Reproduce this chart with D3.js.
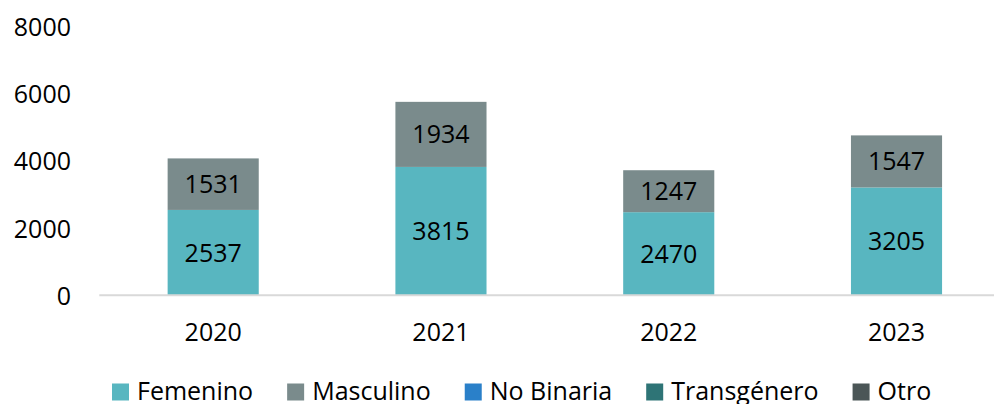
<!DOCTYPE html>
<html>
<head>
<meta charset="utf-8">
<script src="https://cdn.jsdelivr.net/npm/d3@7"></script>
<style>
  html, body { margin: 0; padding: 0; background: #fff; }
  svg { display: block; font-family: "Open Sans", sans-serif; }
</style>
</head>
<body>
<div class="chart"></div>
<script>
// data
const years = ["2020", "2021", "2022", "2023"];
const femenino = [2537, 3815, 2470, 3205];
const masculino = [1531, 1934, 1247, 1547];
const noBinaria = [0, 0, 0, 0];
const transgenero = [0, 0, 0, 0];
const otro = [0, 0, 0, 0];
const seriesNames = ["Femenino", "Masculino", "No Binaria", "Transgénero", "Otro"];
const yTicks = [0, 2000, 4000, 6000, 8000];

const colors = ["#58b6c0", "#7a8b8c", "#2a80c9", "#2e7476", "#4b5657"];

// setup chart
const width = 995;
const height = 404;
const fontSize = 25;

const svg = d3
   .select(".chart")
   .append("svg")
   .attr("width", width)
   .attr("height", height);

const rows = years.map((y, i) => ({
   year: y,
   "Femenino": femenino[i],
   "Masculino": masculino[i],
   "No Binaria": noBinaria[i],
   "Transgénero": transgenero[i],
   "Otro": otro[i]
}));

const stacked = d3.stack().keys(seriesNames)(rows);

const xScale = d3
   .scaleBand()
   .domain(years)
   .range([99.3, 1010.4])
   .paddingInner(0.6)
   .paddingOuter(0.3);

const yScale = d3.scaleLinear().domain([0, 8000]).range([295.3, 26.1]);

// y-axis labels (no line)
const yAxis = d3
   .axisLeft(yScale)
   .tickValues(yTicks)
   .tickFormat(d3.format("d"))
   .tickSize(0)
   .tickPadding(0);
svg
   .append("g")
   .attr("transform", "translate(71, 0)")
   .call(yAxis)
   .call((g) => g.select(".domain").remove())
   .call((g) =>
      g
         .selectAll("text")
         .attr("font-family", "Open Sans")
         .attr("font-size", fontSize)
         .attr("fill", "#000")
         .attr("dy", "0.36em")
   );

// bars
const layers = svg
   .selectAll("g.layer")
   .data(stacked)
   .enter()
   .append("g")
   .attr("class", "layer")
   .attr("fill", (d, i) => colors[i]);

layers
   .selectAll("rect")
   .data((d) => d.filter((s) => s[1] - s[0] > 0))
   .enter()
   .append("rect")
   .attr("x", (d) => xScale(d.data.year))
   .attr("width", xScale.bandwidth())
   .attr("y", (d) => yScale(d[1]))
   .attr("height", (d) => yScale(d[0]) - yScale(d[1]));

// value labels
layers
   .selectAll("text")
   .data((d) => d.filter((s) => s[1] - s[0] > 0))
   .enter()
   .append("text")
   .attr("x", (d) => xScale(d.data.year) + xScale.bandwidth() / 2)
   .attr("y", (d) => (yScale(d[0]) + yScale(d[1])) / 2)
   .attr("dy", "0.36em")
   .attr("text-anchor", "middle")
   .attr("font-size", fontSize)
   .attr("fill", "#000")
   .text((d) => d[1] - d[0]);

// x-axis
const xAxis = d3.axisBottom(xScale).tickSize(0).tickPadding(0);
svg
   .append("g")
   .attr("transform", `translate(0, ${yScale(0)})`)
   .call(xAxis)
   .call((g) => g.select(".domain").remove())
   .call((g) =>
      g
         .selectAll("text")
         .attr("font-family", "Open Sans")
         .attr("font-size", fontSize)
         .attr("fill", "#000")
         .attr("y", 37)
         .attr("dy", "0.36em")
   );

svg
   .append("line")
   .attr("x1", 99.3)
   .attr("x2", 994)
   .attr("y1", yScale(0))
   .attr("y2", yScale(0))
   .attr("stroke", "#d9d9d9")
   .attr("stroke-width", 2);

// legend
const legend = svg.append("g").attr("transform", "translate(112, 391)");
let lx = 0;
seriesNames.forEach((name, i) => {
   const item = legend.append("g").attr("transform", `translate(${lx}, 0)`);
   item
      .append("rect")
      .attr("x", 0)
      .attr("y", -7.5)
      .attr("width", 17)
      .attr("height", 17)
      .attr("fill", colors[i]);
   const t = item
      .append("text")
      .attr("x", 25)
      .attr("dy", "0.36em")
      .attr("font-size", fontSize)
      .attr("fill", "#000")
      .text(name);
   lx += 25 + t.node().getComputedTextLength() + 34;
});
</script>
</body>
</html>
